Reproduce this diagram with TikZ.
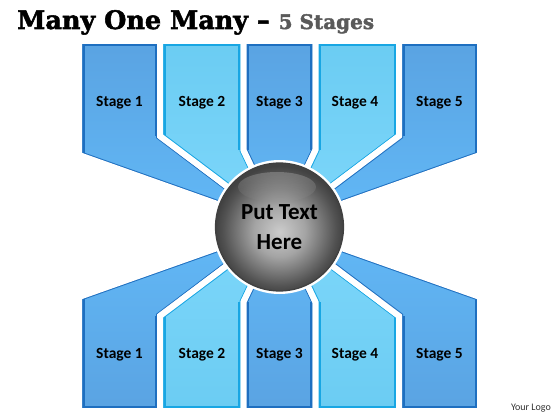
\documentclass[tikz,border=0pt]{standalone}
\usepackage{fontspec}
\setmainfont{Carlito}
\newfontfamily\titlefont[Ligatures=TeX, BoldFeatures={FakeBold=2}]{DejaVu Serif}
\usetikzlibrary{fadings}
\definecolor{dkTop}{HTML}{5AA3E2}
\definecolor{dkBot}{HTML}{62B9F7}
\definecolor{dkBorder}{HTML}{1E6FC0}
\definecolor{ltTop}{HTML}{6BCCF2}
\definecolor{ltBot}{HTML}{7ED7FB}
\definecolor{ltBorder}{HTML}{18A6E3}
\definecolor{titlegray}{HTML}{5A5A5A}
\definecolor{hubin}{HTML}{CCCCCC}
\definecolor{hubmid}{HTML}{A4A4A4}
\definecolor{hubout}{HTML}{525252}
\pgfdeclareradialshading{hubshade}{\pgfpoint{0bp}{-2bp}}{color(0bp)=(hubin); color(10bp)=(hubmid); color(22bp)=(hubout); color(25bp)=(hubout!80!black); color(50bp)=(hubout!80!black)}
% #1 polygon path, #2 box sides path, #3 top colour, #4 bottom colour, #5 border colour
\newcommand\stagearm[5]{%
  \begin{scope}
    \clip #1 -- cycle;
    \shade[top color=#3, bottom color=#4] #1 -- cycle;
    \draw[#5, line width=8] #1 -- cycle;
    \draw[#5, line width=11] #2;
  \end{scope}
  \draw[white, line width=6, line join=miter] #1 -- cycle;
}
\begin{document}
\begin{tikzpicture}[x=1pt, y=-1pt,
  lbl/.style={font=\bfseries\fontsize{15.5}{18}\selectfont, text=black, anchor=base, inner sep=0},
  hubtext/.style={font=\bfseries\fontsize{23}{30}\selectfont, align=center, text=black}]
\useasboundingbox (0,0) rectangle (560,420);
\fill[white] (0,0) rectangle (560,420);
\coordinate (C) at (279.5,226);
% top arms
\stagearm{(79,155)--(79,41)--(160,41)--(160,136)--(C)}{(79,155)--(79,41)--(160,41)--(160,136)}{dkTop}{dkBot}{dkBorder}
\stagearm{(160,136)--(160,41)--(243.5,41)--(243.5,150)--(C)}{(160,136)--(160,41)--(243.5,41)--(243.5,150)}{ltTop}{ltBot}{ltBorder}
\stagearm{(243.5,150)--(243.5,41)--(315.5,41)--(315.5,150)--(C)}{(243.5,150)--(243.5,41)--(315.5,41)--(315.5,150)}{dkTop}{dkBot}{dkBorder}
\stagearm{(315.5,150)--(315.5,41)--(399,41)--(399,136)--(C)}{(315.5,150)--(315.5,41)--(399,41)--(399,136)}{ltTop}{ltBot}{ltBorder}
\stagearm{(399,136)--(399,41)--(480,41)--(480,155)--(C)}{(399,136)--(399,41)--(480,41)--(480,155)}{dkTop}{dkBot}{dkBorder}
% bottom arms
\stagearm{(79,297)--(79,411)--(160,411)--(160,316)--(C)}{(79,297)--(79,411)--(160,411)--(160,316)}{dkBot}{dkTop}{dkBorder}
\stagearm{(160,316)--(160,411)--(243.5,411)--(243.5,302)--(C)}{(160,316)--(160,411)--(243.5,411)--(243.5,302)}{ltBot}{ltTop}{ltBorder}
\stagearm{(243.5,302)--(243.5,411)--(315.5,411)--(315.5,302)--(C)}{(243.5,302)--(243.5,411)--(315.5,411)--(315.5,302)}{dkBot}{dkTop}{dkBorder}
\stagearm{(315.5,302)--(315.5,411)--(399,411)--(399,316)--(C)}{(315.5,302)--(315.5,411)--(399,411)--(399,316)}{ltBot}{ltTop}{ltBorder}
\stagearm{(399,316)--(399,411)--(480,411)--(480,297)--(C)}{(399,316)--(399,411)--(480,411)--(480,297)}{dkBot}{dkTop}{dkBorder}
% labels
\node[lbl] (t1) at (119.5,106.5) {Stage 1};
\node[lbl] (t2) at (202,106.5) {Stage 2};
\node[lbl] (t3) at (279.5,106.5) {Stage 3};
\node[lbl] (t4) at (355,106.5) {Stage 4};
\node[lbl] (t5) at (439.5,106.5) {Stage 5};
\node[lbl] (b1) at (119.5,358) {Stage 1};
\node[lbl] (b2) at (202,358) {Stage 2};
\node[lbl] (b3) at (279.5,358) {Stage 3};
\node[lbl] (b4) at (355,358) {Stage 4};
\node[lbl] (b5) at (439.5,358) {Stage 5};
% hub
\fill[white] (279.5,227) circle (67);
\node[circle, minimum size=128, inner sep=0, shading=hubshade, draw=black!75, line width=1.2, hubtext] (hub) at (279.5,227) {Put Text\\Here};
\fill[white, opacity=0.22, path fading=south] (277,187) ellipse (39 and 15);
% title
\node[anchor=base west, inner sep=0, font=\titlefont\bfseries\fontsize{25.5}{28}\selectfont] (title) at (17,29) {Many One Many -- {\color{titlegray}\fontsize{20}{22}\selectfont 5 Stages}};
\node[anchor=base east, inner sep=0, font=\fontsize{10}{12}\selectfont, text=black!80] (logo) at (551,410) {Your Logo};
\end{tikzpicture}
\end{document}
